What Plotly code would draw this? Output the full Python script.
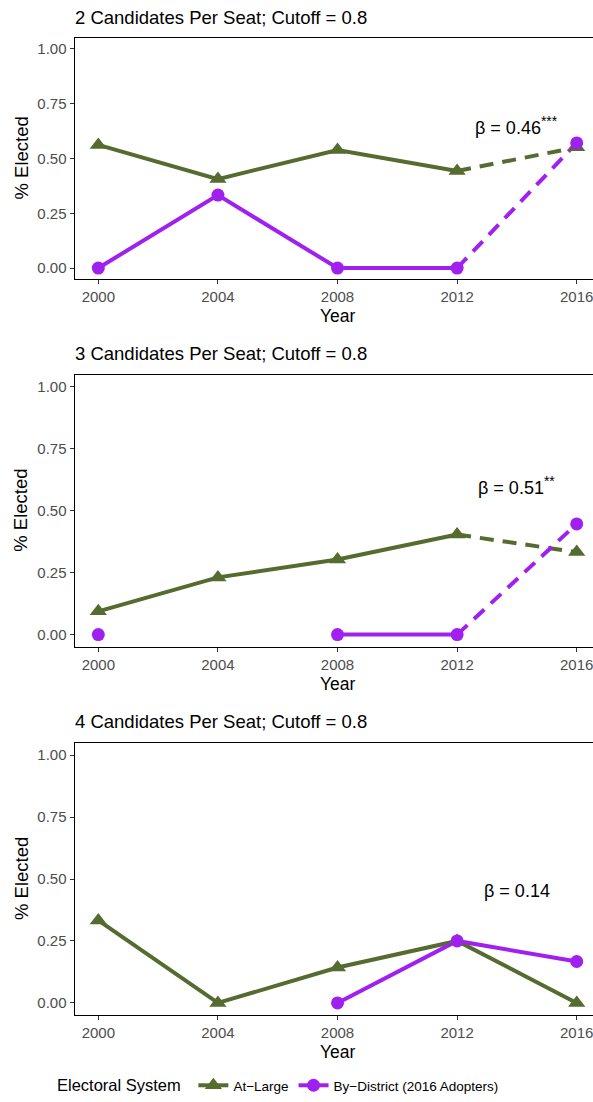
import plotly.graph_objects as go

# ---- data ---------------------------------------------------------------
years = [2000, 2004, 2008, 2012, 2016]

panel_titles = [
    "2 Candidates Per Seat; Cutoff = 0.8",
    "3 Candidates Per Seat; Cutoff = 0.8",
    "4 Candidates Per Seat; Cutoff = 0.8",
]

at_large = [
    [0.562, 0.406, 0.539, 0.443, 0.551],
    [0.094, 0.231, 0.303, 0.404, 0.333],
    [0.333, 0.0, 0.143, 0.25, 0.0],
]
by_district = [
    [0.0, 0.333, 0.0, 0.0, 0.571],
    [0.0, None, 0.0, 0.0, 0.447],
    [None, None, 0.0, 0.25, 0.167],
]

# year from which the 2012->2016 change is drawn dashed (None = all solid)
dash_from = [2012, 2012, None]

beta_values = ["0.46", "0.51", "0.14"]
beta_stars = ["***", "**", ""]
beta_x = [2014, 2014, 2014]
beta_y = [0.65, 0.60, 0.45]

series_names = ["At\u2212Large", "By\u2212District (2016 Adopters)"]
legend_title = "Electoral System"

# ---- styling ------------------------------------------------------------
W, H = 593, 1102
GREEN = "#556B2F"
PURPLE = "#A020F0"
FONT = "Liberation Sans, Arial, sans-serif"
TICK_GREY = "#4D4D4D"

# panel boxes in pixels (top, bottom); left edge fixed, right runs to page edge
x_left = 74.7
panels_px = [(38.0, 279.0), (374.5, 647.0), (742.7, 1015.3)]
x_range = [1999.21, 2016.545]


def py(p):
    return 1 - p / H


def px(p):
    return p / W


def beta_text(value, stars):
    txt = "\u03b2 = " + value
    if stars:
        txt += "<sup><span style='font-size:14px'>" + stars + "</span></sup>"
    return txt


fig = go.Figure()
annotations = []

for i in range(3):
    top, bot = panels_px[i]
    sfx = "" if i == 0 else str(i + 1)
    xa, ya = "x" + sfx, "y" + sfx

    fig.layout["xaxis" + sfx] = dict(
        domain=[px(x_left), 1], range=x_range, anchor=ya,
        tickvals=years, ticktext=[str(y) for y in years],
        ticks="outside", ticklen=4, tickwidth=1, tickcolor="#333333",
        showline=True, linecolor="black", linewidth=1.3, mirror=True,
        showgrid=False, zeroline=False, automargin=False,
        ticklabeloverflow="allow",
        tickfont=dict(family=FONT, size=15, color=TICK_GREY),
    )
    fig.layout["yaxis" + sfx] = dict(
        domain=[py(bot), py(top)], range=[-0.05, 1.05], anchor=xa,
        tickvals=[0, 0.25, 0.5, 0.75, 1.0],
        ticktext=["0.00", "0.25", "0.50", "0.75", "1.00"],
        ticks="outside", ticklen=4, tickwidth=1, tickcolor="#333333",
        showline=True, linecolor="black", linewidth=1.3, mirror=False,
        showgrid=False, zeroline=False, automargin=False,
        tickfont=dict(family=FONT, size=15, color=TICK_GREY),
    )

    # lines first (solid part, then dashed part), markers on top
    for vals, color in ((at_large[i], GREEN), (by_district[i], PURPLE)):
        if dash_from[i] is None:
            sx, sy = years, vals
            dx, dy = [], []
        else:
            k = years.index(dash_from[i])
            sx, sy = years[:k + 1], vals[:k + 1]
            dx, dy = years[k:], vals[k:]
        fig.add_trace(go.Scatter(
            x=sx, y=sy, mode="lines", xaxis=xa, yaxis=ya,
            line=dict(color=color, width=4), showlegend=False,
            hoverinfo="skip"))
        if dx:
            fig.add_trace(go.Scatter(
                x=dx, y=dy, mode="lines", xaxis=xa, yaxis=ya,
                line=dict(color=color, width=4, dash="14px,9px"),
                showlegend=False, hoverinfo="skip"))

    fig.add_trace(go.Scatter(
        x=years, y=at_large[i], mode="markers", xaxis=xa, yaxis=ya,
        marker=dict(symbol="triangle-up", size=15, color=GREEN),
        showlegend=False))
    fig.add_trace(go.Scatter(
        x=years, y=by_district[i], mode="markers", xaxis=xa, yaxis=ya,
        marker=dict(symbol="circle", size=13, color=PURPLE),
        showlegend=False))

    # panel title
    annotations.append(dict(
        text=panel_titles[i], xref="paper", yref="paper",
        x=px(x_left - 1.5), y=py(top - 21), xanchor="left", yanchor="middle",
        showarrow=False, font=dict(family=FONT, size=18.5, color="black")))
    # y-axis title
    annotations.append(dict(
        text="% Elected", xref="paper", yref="paper",
        x=px(21), y=py((top + bot) / 2), textangle=-90,
        xanchor="center", yanchor="middle", showarrow=False,
        font=dict(family=FONT, size=18.5, color="black")))
    # x-axis title
    annotations.append(dict(
        text="Year", xref="paper", yref="paper",
        x=px(337.5), y=py(bot + 37), xanchor="center", yanchor="middle",
        showarrow=False, font=dict(family=FONT, size=17.5, color="black")))
    # coefficient label
    annotations.append(dict(
        text=beta_text(beta_values[i], beta_stars[i]), xref=xa, yref=ya,
        x=beta_x[i], y=beta_y[i], xanchor="center", yanchor="middle",
        showarrow=False, font=dict(family=FONT, size=18, color="black")))

# legend entries
fig.add_trace(go.Scatter(
    x=[None], y=[None], mode="lines+markers", name=series_names[0],
    line=dict(color=GREEN, width=4),
    marker=dict(symbol="triangle-up", size=15, color=GREEN)))
fig.add_trace(go.Scatter(
    x=[None], y=[None], mode="lines+markers", name=series_names[1],
    line=dict(color=PURPLE, width=4),
    marker=dict(symbol="circle", size=13, color=PURPLE)))

fig.update_layout(
    template="none",
    width=W, height=H,
    margin=dict(l=0, r=0, t=0, b=0),
    paper_bgcolor="white", plot_bgcolor="white",
    annotations=annotations,
    showlegend=True,
    legend=dict(
        orientation="h", x=px(55), xanchor="left", y=0, yanchor="bottom",
        title=dict(text=legend_title + " ", side="left",
                   font=dict(family=FONT, size=16.5, color="black")),
        font=dict(family=FONT, size=13.5, color="black"),
        itemwidth=30, tracegroupgap=0,
        bgcolor="rgba(0,0,0,0)",
    ),
)

fig.write_html("out.html")
